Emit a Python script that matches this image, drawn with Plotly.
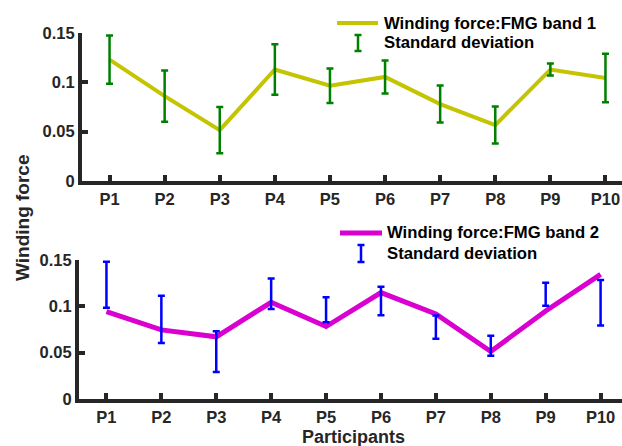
import plotly.graph_objects as go

participants = ["P1", "P2", "P3", "P4", "P5", "P6", "P7", "P8", "P9", "P10"]
x_pos = [1, 2, 3, 4, 5, 6, 7, 8, 9, 10]

band1_force = [0.123, 0.086, 0.0515, 0.113, 0.0965, 0.1055, 0.078, 0.0567, 0.113, 0.1043]
band1_sd = [0.0245, 0.026, 0.0235, 0.0256, 0.0175, 0.0167, 0.0187, 0.0187, 0.006, 0.0246]

band2_force = [0.0943, 0.0746, 0.0671, 0.1044, 0.0782, 0.1148, 0.0918, 0.0513, 0.095, 0.1345]
band2_sd_center = [0.1233, 0.0859, 0.0511, 0.1136, 0.0963, 0.1058, 0.0775, 0.0574, 0.113, 0.1038]
band2_sd = [0.0247, 0.0256, 0.022, 0.0165, 0.0135, 0.0154, 0.0126, 0.0108, 0.0125, 0.0246]

y_ticks = [0, 0.05, 0.1, 0.15]
y_ticktext = ["0", "0.05", "0.1", "0.15"]

W, H = 622, 446
AX = "#262626"
YEL = "#c4c400"
GRN = "#008000"
MAG = "#d900d0"
BLU = "#0000ff"
FONT = "Liberation Sans"

def px(x):
    return x / W

def py(y):
    return 1 - y / H

def bold(labels):
    return ["<b>" + t + "</b>" for t in labels]

fig = go.Figure()

fig.add_trace(go.Scatter(x=x_pos, y=band1_force, mode="lines",
                         line=dict(color=YEL, width=4), xaxis="x", yaxis="y", showlegend=False))
fig.add_trace(go.Scatter(x=x_pos, y=band1_force, mode="markers",
                         marker=dict(size=1, color="rgba(0,0,0,0)"),
                         error_y=dict(type="data", array=band1_sd, color=GRN, thickness=2.5, width=3.5),
                         xaxis="x", yaxis="y", showlegend=False))

fig.add_trace(go.Scatter(x=x_pos, y=band2_force, mode="lines",
                         line=dict(color=MAG, width=5), xaxis="x2", yaxis="y2", showlegend=False))
fig.add_trace(go.Scatter(x=x_pos, y=band2_sd_center, mode="markers",
                         marker=dict(size=1, color="rgba(0,0,0,0)"),
                         error_y=dict(type="data", array=band2_sd, color=BLU, thickness=2.5, width=3.5),
                         xaxis="x2", yaxis="y2", showlegend=False))

axis_common = dict(showline=True, linewidth=4, linecolor=AX, ticks="inside", ticklen=6,
                   tickwidth=4, tickcolor=AX, showgrid=False, zeroline=False, automargin=False,
                   tickfont=dict(family=FONT, size=16.5, color=AX))

fig.update_layout(
    width=W, height=H,
    margin=dict(l=0, r=0, t=0, b=0, autoexpand=False),
    paper_bgcolor="white", plot_bgcolor="white",
    font=dict(family=FONT, color=AX),
    xaxis=dict(domain=[px(82), 1], range=[0.5, 10.3], anchor="y",
               tickvals=x_pos, ticktext=bold(participants), **axis_common),
    yaxis=dict(domain=[py(181), py(33)], range=[0, 0.15], anchor="x",
               tickvals=y_ticks, ticktext=bold(y_ticktext), **axis_common),
    xaxis2=dict(domain=[px(79), 1], range=[0.5, 10.39], anchor="y2",
                tickvals=x_pos, ticktext=bold(participants), **axis_common),
    yaxis2=dict(domain=[py(399), py(260)], range=[0, 0.15], anchor="x2",
                tickvals=y_ticks, ticktext=bold(y_ticktext), **axis_common),
)

annotations = [
    dict(text="<b>Winding force</b>", x=px(22), y=py(218), textangle=-90,
         font=dict(size=19, family=FONT, color=AX)),
    dict(text="<b>Participants</b>", x=px(353), y=py(437),
         font=dict(size=18, family=FONT, color=AX)),
]
legend_items = [
    ("Winding force:FMG band 1", 382, 23),
    ("Standard deviation", 382, 43),
    ("Winding force:FMG band 2", 385, 233),
    ("Standard deviation", 385, 253),
]
for text, lx, ly in legend_items:
    annotations.append(dict(text="<b>" + text + "</b>", x=px(lx), y=py(ly), xanchor="left",
                            font=dict(size=16.7, family=FONT, color="black")))
for a in annotations:
    a.update(xref="paper", yref="paper", showarrow=False)
    a.setdefault("xanchor", "center")
    a.setdefault("yanchor", "middle")
fig.update_layout(annotations=annotations)

shapes = []
# legend line samples
shapes.append(dict(type="line", x0=px(337), x1=px(378), y0=py(23), y1=py(23),
                   line=dict(color=YEL, width=4)))
shapes.append(dict(type="line", x0=px(340), x1=px(382), y0=py(233), y1=py(233),
                   line=dict(color=MAG, width=5)))
# legend error-bar glyphs
for cx, y0, y1, col in [(358, 35, 51, GRN), (361, 245, 262, BLU)]:
    shapes.append(dict(type="line", x0=px(cx), x1=px(cx), y0=py(y0), y1=py(y1), line=dict(color=col, width=2.5)))
    for yy in (y0, y1):
        shapes.append(dict(type="line", x0=px(cx - 3.5), x1=px(cx + 3.5), y0=py(yy), y1=py(yy),
                           line=dict(color=col, width=2.5)))
for s in shapes:
    s.update(xref="paper", yref="paper")
fig.update_layout(shapes=shapes)

fig.write_html("out.html")
